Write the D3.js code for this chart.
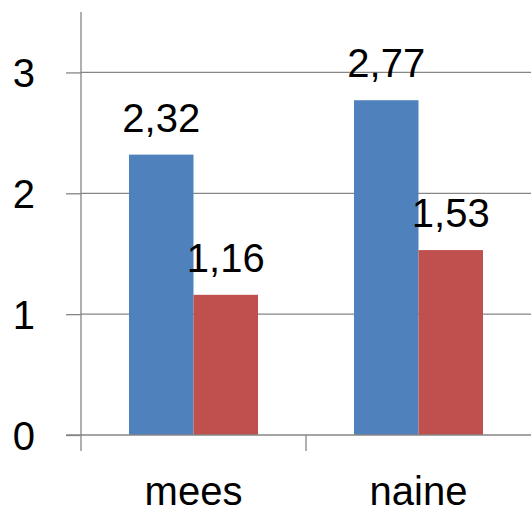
<!DOCTYPE html>
<html>
<head>
<meta charset="utf-8">
<script src="https://cdn.jsdelivr.net/npm/d3@7"></script>
<style>
  html, body { margin: 0; padding: 0; background: #fff; }
  svg text { font-family: "Liberation Sans", Arial, sans-serif; fill: #000; }
</style>
</head>
<body>
<div id="chart"></div>
<script>
// data
const categories = ["mees", "naine"];
const seriesNames = ["s1", "s2"];
const series1 = [2.32, 2.77];
const series2 = [1.16, 1.53];
const yTicks = [0, 1, 2, 3];

const W = 531, H = 515;
const margin = { top: 12, right: 0, bottom: 80, left: 81 };
const colors = ["#4F81BD", "#C0504D"];
const axisColor = "#868686";
const fmt = v => d3.format(".2f")(v).replace(".", ",");

const svg = d3.select("#chart").append("svg")
  .attr("width", W)
  .attr("height", H);

const x0 = d3.scaleBand()
  .domain(categories)
  .range([margin.left, W - margin.right])
  .paddingInner(0)
  .paddingOuter(0);

const x1 = d3.scaleBand()
  .domain(seriesNames)
  .range([0, x0.bandwidth()])
  .paddingInner(0)
  .paddingOuter(0.744);

const y = d3.scaleLinear()
  .domain([0, 3.5])
  .range([H - margin.bottom, margin.top]);

// gridlines
svg.append("g")
  .selectAll("line")
  .data(yTicks.filter(d => d > 0))
  .join("line")
  .attr("x1", margin.left)
  .attr("x2", W)
  .attr("y1", d => y(d))
  .attr("y2", d => y(d))
  .attr("stroke", axisColor)
  .attr("stroke-width", 1.3);

// bars
const rows = categories.map((c, i) => ({ cat: c, vals: [series1[i], series2[i]] }));
const groups = svg.append("g")
  .selectAll("g")
  .data(rows)
  .join("g")
  .attr("transform", d => `translate(${x0(d.cat)},0)`);

groups.selectAll("rect")
  .data(d => d.vals.map((v, j) => ({ key: seriesNames[j], v, j })))
  .join("rect")
  .attr("x", d => x1(d.key))
  .attr("width", x1.bandwidth())
  .attr("y", d => y(d.v))
  .attr("height", d => y(0) - y(d.v))
  .attr("fill", d => colors[d.j]);

groups.selectAll("text")
  .data(d => d.vals.map((v, j) => ({ key: seriesNames[j], v, j })))
  .join("text")
  .attr("x", d => x1(d.key) + x1.bandwidth() / 2)
  .attr("y", d => y(d.v) - 23)
  .attr("text-anchor", "middle")
  .attr("font-size", 40)
  .text(d => fmt(d.v));

// y axis
const yAxis = d3.axisLeft(y).tickValues(yTicks).tickSize(15).tickPadding(31).tickFormat(d3.format("d"));
const gy = svg.append("g")
  .attr("transform", `translate(${margin.left},0)`)
  .call(yAxis);
gy.select(".domain").attr("stroke", axisColor).attr("stroke-width", 1.3)
  .attr("d", `M0,${y(3.5)}V${y(0) + 16}`);
gy.selectAll(".tick line").attr("stroke", axisColor).attr("stroke-width", 1.3);
gy.selectAll(".tick text").attr("font-size", 40).attr("fill", "#000")
  .attr("font-family", "'Liberation Sans', Arial, sans-serif").attr("dy", "0.36em");

// x axis
const gx = svg.append("g");
gx.append("line")
  .attr("x1", margin.left - 15)
  .attr("x2", W)
  .attr("y1", y(0))
  .attr("y2", y(0))
  .attr("stroke", axisColor)
  .attr("stroke-width", 1.3);
gx.selectAll("line.sep")
  .data(categories.slice(1))
  .join("line")
  .attr("class", "sep")
  .attr("x1", d => x0(d))
  .attr("x2", d => x0(d))
  .attr("y1", y(0))
  .attr("y2", y(0) + 16)
  .attr("stroke", axisColor)
  .attr("stroke-width", 1.3);
gx.selectAll("text")
  .data(categories)
  .join("text")
  .attr("x", d => x0(d) + x0.bandwidth() / 2)
  .attr("y", 505)
  .attr("text-anchor", "middle")
  .attr("font-size", 40)
  .text(d => d);
</script>
</body>
</html>
